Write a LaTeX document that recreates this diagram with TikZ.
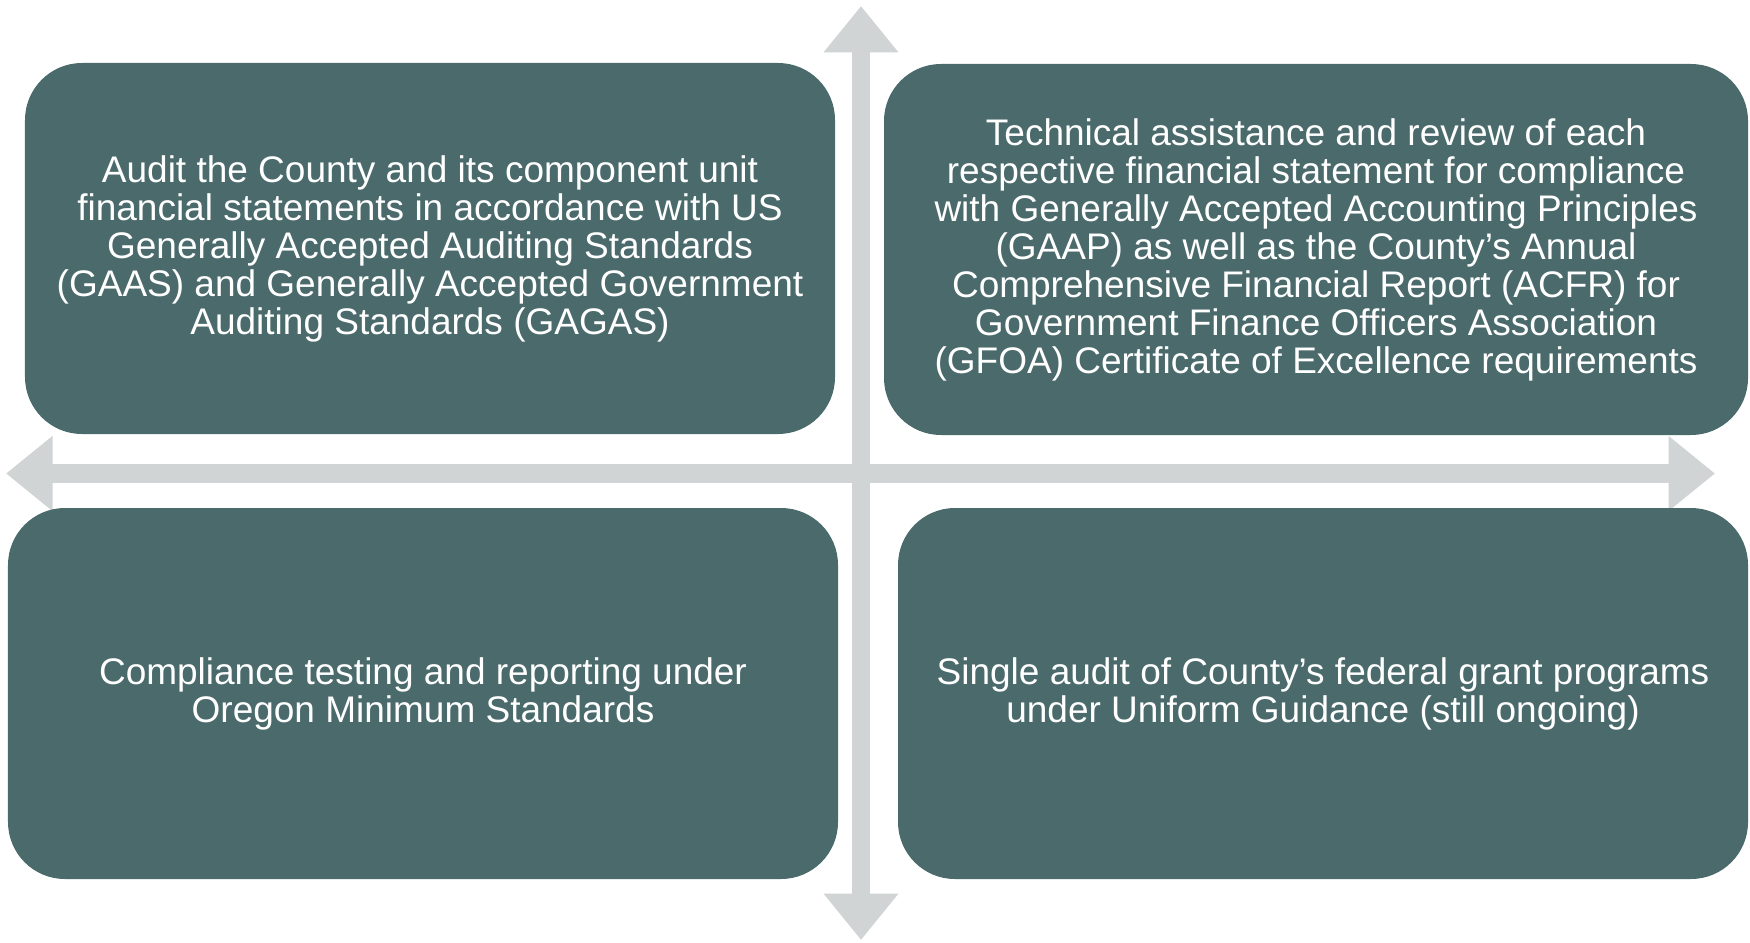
\documentclass[tikz,border=0pt]{standalone}
\usepackage{fontspec}
\setmainfont{Liberation Sans}
\usetikzlibrary{arrows.meta}
\definecolor{slate}{RGB}{74,106,108}
\definecolor{axisgray}{RGB}{208,212,213}
\tikzset{
  quad/.style={fill=slate, rounded corners=22.8pt, inner sep=0pt, minimum height=148.4pt,
    text=white, align=center, font=\fontsize{14.8pt}{15.2pt}\selectfont},
  axis/.style={draw=axisgray, line width=7.4pt, {Triangle[length=18.6pt,width=28.8pt]}-{Triangle[length=18.6pt,width=28.8pt]}}
}
\begin{document}
\begin{tikzpicture}[x=0.4pt, y=0.4pt]
\useasboundingbox (0,0) rectangle (1750,942);
\coordinate (up) at (861,936);
\coordinate (down) at (861,2);
\coordinate (left) at (6,468.5);
\coordinate (right) at (1715,468.5);
\draw[axis] (left) -- (right);
\draw[axis] (down) -- (up);

\node[quad, minimum width=324pt] (audit) at (430,693.5) {Audit the County and its component unit\\financial statements in accordance with US\\Generally Accepted Auditing Standards\\(GAAS) and Generally Accepted Government\\Auditing Standards (GAGAS)};
\node[quad, minimum width=345.6pt] (review) at (1316,692.5) {Technical assistance and review of each\\respective financial statement for compliance\\with Generally Accepted Accounting Principles\\(GAAP) as well as the County’s Annual\\Comprehensive Financial Report (ACFR) for\\Government Finance Officers Association\\(GFOA) Certificate of Excellence requirements};
\node[quad, minimum width=332pt] (oregon) at (423,248.5) {Compliance testing and reporting under\\Oregon Minimum Standards};
\node[quad, minimum width=340pt] (single) at (1323,248.5) {Single audit of County’s federal grant programs\\under Uniform Guidance (still ongoing)};
\end{tikzpicture}
\end{document}
